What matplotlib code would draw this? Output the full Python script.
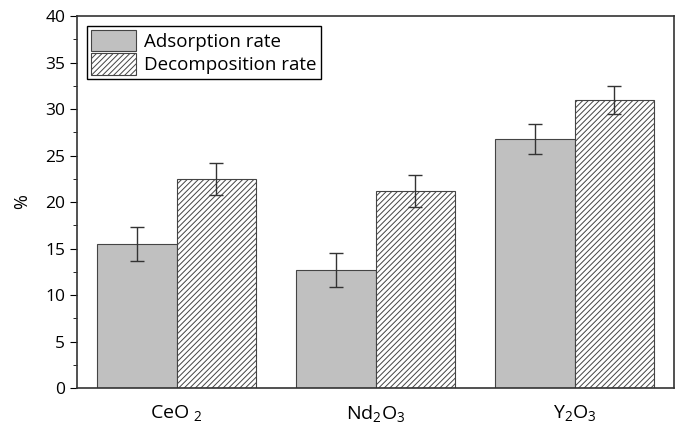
import matplotlib.pyplot as plt
import numpy as np

plt.rcParams['font.family'] = ['Open Sans', 'DejaVu Sans']
plt.rcParams['mathtext.default'] = 'regular'
plt.rcParams['hatch.linewidth'] = 0.7

categories = ['CeO $_2$', 'Nd$_2$O$_3$', 'Y$_2$O$_3$']
adsorption = [15.5, 12.7, 26.8]
adsorption_err = [1.8, 1.8, 1.6]
decomposition = [22.5, 21.2, 31.0]
decomposition_err = [1.7, 1.7, 1.5]

fig = plt.figure(figsize=(6.8, 4.29), dpi=100)
ax = fig.add_axes([77/680, 41/429, 597/680, 372/429])

x = np.arange(len(categories))
w = 0.4
ax.bar(x - w/2, adsorption, w, color='#c0c0c0', edgecolor='#444444', linewidth=0.8,
       yerr=adsorption_err, capsize=5, error_kw=dict(ecolor='#333333', elinewidth=1, capthick=1),
       label='Adsorption rate')
ax.bar(x + w/2, decomposition, w, color='white', edgecolor='#444444', linewidth=0.8,
       hatch='//////', yerr=decomposition_err, capsize=5,
       error_kw=dict(ecolor='#333333', elinewidth=1, capthick=1),
       label='Decomposition rate')

ax.set_xlim(-0.5, 2.5)
ax.set_ylim(0, 40)
ax.set_xticks(x)
ax.set_xticklabels(categories, fontsize=14)
ax.tick_params(axis='x', length=0, pad=11)
ax.set_yticks(np.arange(0, 41, 5))
ax.set_yticks(np.arange(2.5, 40, 5), minor=True)
ax.tick_params(axis='y', which='major', length=5, labelsize=12.5, direction='out')
ax.tick_params(axis='y', which='minor', length=3, direction='out')
ax.set_ylabel('%', fontsize=13, labelpad=10)
for s in ax.spines.values():
    s.set_color('#333333')
    s.set_linewidth(1.2)

ax.legend(loc='upper left', fontsize=13.5, frameon=True, fancybox=False,
          edgecolor='black', framealpha=1, handlelength=2.4, handleheight=1.4,
          borderpad=0.2, labelspacing=0.1, handletextpad=0.45, borderaxespad=0,
          bbox_to_anchor=(0.017, 0.973))

fig.savefig('out.png', dpi=100)
